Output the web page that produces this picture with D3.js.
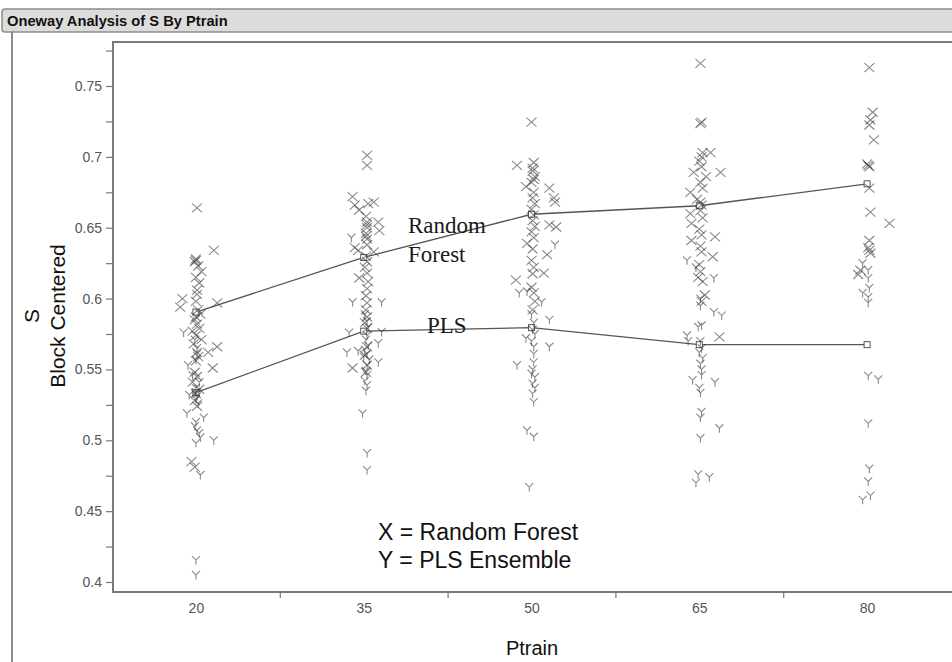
<!DOCTYPE html>
<html>
<head>
  <meta charset="utf-8">
  <title>Oneway Analysis of S By Ptrain</title>
  <script src="https://d3js.org/d3.v7.min.js"></script>
  <style>
    body {
      margin: 0;
      background: #ffffff;
      font-family: "Liberation Sans", Arial, sans-serif;
    }
    svg { display: block; }
    .tick text {
      font-family: "Liberation Sans", Arial, sans-serif;
      font-size: 14px;
      fill: #555;
    }
    .tick line { stroke: #777; stroke-width: 1.2; }
    .anno {
      font-family: "Liberation Serif", "Times New Roman", serif;
      font-size: 23px;
      fill: #1a1a1a;
    }
  </style>
</head>
<body>
  <div id="chart"></div>

  <script>
    // Ptrain levels and axis labels
    const ptrainLevels = [20, 35, 50, 65, 80];
    const groupBounds = [27.5, 42.5, 57.5, 72.5];
    const yMajorTicks = [0.4, 0.45, 0.5, 0.55, 0.6, 0.65, 0.7, 0.75];
    const yTickLabels = ['0.4', '0.45', '0.5', '0.55', '0.6', '0.65', '0.7', '0.75'];
    const yMinorTicks = [0.425, 0.475, 0.525, 0.575, 0.625, 0.675, 0.725, 0.775];

    // group means (lines)
    const rfMeans = [0.5905, 0.629, 0.6595, 0.6655, 0.681];
    const plsMeans = [0.5336, 0.577, 0.5795, 0.5675, 0.5675];

    // jittered points: [Ptrain, S]  X = Random Forest
    const rfPts20 = [
      [20.1, .664], [21.6, .634], [20.0, .628], [19.9, .626], [20.2, .623], [20.5, .619], [20.0, .615],
      [20.3, .611], [20.1, .606], [18.8, .600], [18.6, .594], [21.9, .597], [20.0, .598], [20.2, .592],
      [20.4, .589], [19.9, .585], [20.1, .582], [20.3, .579], [19.7, .577], [20.0, .574], [20.5, .571],
      [19.8, .568], [21.9, .566], [21.1, .562], [20.2, .559], [20.0, .556], [21.5, .551], [19.9, .548],
      [20.1, .545], [19.7, .541], [20.3, .536], [20.0, .533], [19.9, .528], [20.1, .524], [19.6, .485],
      [19.9, .481], [20.0, .627], [20.1, .603], [20.0, .587], [20.1, .562]
    ];
    const rfPts35 = [
      [35.3, .701], [35.3, .694], [34.0, .672], [34.2, .666], [35.4, .667], [35.9, .668], [34.6, .6625],
      [35.2, .658], [35.3, .654], [36.3, .654], [36.4, .648], [35.3, .650], [35.2, .646], [35.3, .642],
      [34.2, .636], [34.5, .634], [35.9, .633], [35.3, .638], [35.2, .630], [35.3, .626], [35.1, .622],
      [35.3, .618], [34.6, .6145], [35.4, .612], [35.3, .607], [35.2, .602], [35.3, .597], [35.2, .592],
      [35.3, .587], [35.1, .583], [35.3, .579], [34.0, .551], [35.3, .553], [35.2, .548], [35.1, .560],
      [35.3, .566], [35.3, .652], [35.2, .644]
    ];
    const rfPts50 = [
      [50.0, .7245], [48.7, .694], [50.2, .696], [50.1, .690], [50.3, .686], [49.5, .679], [51.6, .678],
      [50.0, .682], [50.2, .675], [52.0, .671], [52.1, .668], [50.1, .671], [50.3, .667], [50.0, .663],
      [50.2, .659], [50.1, .655], [51.6, .652], [52.2, .6505], [50.3, .651], [50.0, .647], [50.2, .643],
      [49.6, .639], [50.1, .635], [51.4, .631], [50.0, .627], [51.1, .618], [48.6, .613], [50.2, .622],
      [50.1, .6175], [50.0, .608], [50.2, .604], [50.3, .598], [50.1, .592], [50.1, .692], [50.2, .684]
    ];
    const rfPts65 = [
      [65.1, .766], [65.2, .7245], [65.1, .7235], [65.3, .703], [66.0, .703], [66.9, .689], [64.5, .689],
      [65.6, .686], [64.2, .675], [65.3, .678], [65.1, .682], [65.0, .697], [65.2, .693], [64.8, .670],
      [65.2, .666], [64.2, .660], [65.1, .662], [64.3, .653], [65.3, .657], [65.0, .649], [65.2, .645],
      [64.3, .641], [66.4, .6435], [65.1, .637], [65.2, .633], [66.2, .6295], [65.0, .624], [65.1, .619],
      [65.5, .6025], [65.2, .598], [66.8, .573], [65.3, .612], [64.9, .615], [65.1, .668], [65.2, .700]
    ];
    const rfPts80 = [
      [80.2, .763], [80.5, .7315], [80.3, .726], [80.2, .7225], [80.6, .712], [80.1, .694], [80.2, .693],
      [80.0, .695], [80.2, .678], [80.3, .661], [82.0, .653], [80.2, .641], [80.1, .636], [80.2, .634],
      [80.3, .632], [79.4, .620], [79.2, .617]
    ];

    // Y = PLS Ensemble
    const plsPts20 = [
      [18.9, .576], [19.3, .553], [20.1, .561], [20.0, .557], [19.7, .546], [20.3, .541], [20.0, .537],
      [19.4, .532], [20.0, .529], [20.2, .526], [19.2, .519], [20.7, .516], [20.0, .513], [19.9, .510],
      [20.1, .507], [20.3, .505], [21.6, .500], [20.4, .502], [20.0, .498], [20.4, .4755], [20.0, .4155],
      [20.0, .405], [20.1, .565], [19.9, .571], [20.0, .534], [20.1, .531]
    ];
    const plsPts35 = [
      [33.9, .643], [34.0, .5975], [36.6, .5975], [33.7, .576], [36.6, .5765], [33.5, .562], [34.5, .563],
      [35.0, .559], [36.3, .5685], [36.3, .555], [35.3, .574], [35.2, .571], [35.4, .567], [35.1, .564],
      [35.3, .561], [35.5, .557], [35.3, .553], [35.2, .549], [35.3, .546], [35.1, .542], [35.3, .539],
      [35.2, .535], [35.4, .580], [35.3, .584], [35.1, .589], [34.9, .519], [35.3, .491], [35.3, .479]
    ];
    const plsPts50 = [
      [52.1, .638], [48.9, .604], [49.6, .605], [50.9, .5975], [51.6, .585], [49.5, .572], [51.6, .566],
      [48.7, .553], [50.2, .561], [50.2, .555], [50.3, .5445], [50.1, .533], [50.2, .527], [49.6, .507],
      [50.2, .5025], [49.8, .467], [50.0, .589], [50.2, .583], [50.1, .578], [50.3, .575], [50.0, .570],
      [50.2, .566], [50.1, .550], [50.0, .547], [50.1, .540], [50.3, .537]
    ];
    const plsPts65 = [
      [63.9, .627], [64.7, .622], [66.3, .6145], [65.1, .600], [66.3, .5905], [67.0, .588], [64.9, .580],
      [65.2, .581], [63.9, .574], [65.1, .570], [65.2, .565], [65.0, .562], [65.3, .558], [65.1, .554],
      [65.2, .550], [64.4, .5425], [66.4, .541], [65.1, .5335], [65.2, .520], [65.1, .516], [66.8, .5085],
      [65.1, .5015], [64.9, .476], [65.9, .474], [64.7, .470], [65.2, .546], [65.0, .537], [65.1, .595],
      [64.0, .570]
    ];
    const plsPts80 = [
      [79.6, .625], [80.1, .620], [80.1, .6145], [80.2, .6075], [79.6, .604], [80.1, .601], [80.1, .597],
      [80.1, .5455], [81.0, .543], [80.1, .512], [80.2, .480], [80.1, .471], [79.6, .458], [80.3, .461]
    ];

    const W = 952, H = 662;
    const plot = { left: 113, top: 42, right: 953, bottom: 592 };

    const svg = d3.select('#chart').append('svg')
      .attr('width', W)
      .attr('height', H);

    // title bar
    svg.append('rect')
      .attr('x', 2).attr('y', 9)
      .attr('width', W + 10).attr('height', 23)
      .attr('rx', 3)
      .attr('fill', '#dcdcdc')
      .attr('stroke', '#8c8c8c')
      .attr('stroke-width', 1.5);
    svg.append('text')
      .attr('x', 7).attr('y', 26)
      .attr('font-size', '14.7px')
      .attr('font-weight', 'bold')
      .attr('fill', '#111')
      .text('Oneway Analysis of S By Ptrain');

    // outline of the report box
    svg.append('line')
      .attr('x1', 12).attr('x2', 12)
      .attr('y1', 32).attr('y2', H)
      .attr('stroke', '#8c8c8c')
      .attr('stroke-width', 2);

    const x = d3.scaleLinear().domain([12.5, 87.5]).range([112, 951]);
    const y = d3.scaleLinear().domain([0.4, 0.75]).range([582, 86]);

    // plot frame
    svg.append('rect')
      .attr('x', plot.left).attr('y', plot.top)
      .attr('width', plot.right - plot.left).attr('height', plot.bottom - plot.top)
      .attr('fill', 'none')
      .attr('stroke', '#7a7a7a')
      .attr('stroke-width', 2);

    // y axis
    const yAxis = svg.append('g')
      .attr('transform', `translate(${plot.left},0)`)
      .call(d3.axisLeft(y).tickValues(yMajorTicks).tickSize(7).tickPadding(4)
        .tickFormat((d, i) => yTickLabels[i]));
    yAxis.select('.domain').remove();
    const yMinor = svg.append('g')
      .attr('transform', `translate(${plot.left},0)`)
      .call(d3.axisLeft(y).tickValues(yMinorTicks).tickSize(7).tickFormat(''));
    yMinor.select('.domain').remove();

    // x axis
    const xAxis = svg.append('g')
      .attr('transform', `translate(0,${plot.bottom})`)
      .call(d3.axisBottom(x).tickValues(ptrainLevels).tickSize(0).tickPadding(11));
    xAxis.select('.domain').remove();
    const xBounds = svg.append('g')
      .attr('transform', `translate(0,${plot.bottom})`)
      .call(d3.axisBottom(x).tickValues(groupBounds).tickSize(6).tickFormat(''));
    xBounds.select('.domain').remove();

    // axis titles
    svg.append('text')
      .attr('transform', 'translate(39,316) rotate(-90)')
      .attr('text-anchor', 'middle')
      .attr('font-size', '21px')
      .attr('fill', '#111')
      .text('S');
    svg.append('text')
      .attr('transform', 'translate(65,316) rotate(-90)')
      .attr('text-anchor', 'middle')
      .attr('font-size', '21px')
      .attr('fill', '#111')
      .text('Block Centered');
    svg.append('text')
      .attr('x', 532).attr('y', 655)
      .attr('text-anchor', 'middle')
      .attr('font-size', '20px')
      .attr('fill', '#111')
      .text('Ptrain');

    // mean lines (drawn under the points, as in the report)
    const line = d3.line()
      .x((d, i) => x(ptrainLevels[i]))
      .y(d => y(d));

    [rfMeans, plsMeans].forEach(means => {
      svg.append('path')
        .datum(means)
        .attr('d', line)
        .attr('fill', 'none')
        .attr('stroke', '#555')
        .attr('stroke-width', 1.3);
      svg.append('g')
        .selectAll('rect')
        .data(means)
        .enter()
        .append('rect')
        .attr('x', (d, i) => x(ptrainLevels[i]) - 3)
        .attr('y', d => y(d) - 3)
        .attr('width', 6)
        .attr('height', 6)
        .attr('fill', 'white')
        .attr('stroke', '#555')
        .attr('stroke-width', 1);
    });

    // markers
    const xMark = 'M-5,-4.5L5,4.5M-5,4.5L5,-4.5';
    const yMark = 'M-4,-4L0,0L4,-4M0,0L0,4.5';

    const rfAll = [].concat(rfPts20, rfPts35, rfPts50, rfPts65, rfPts80);
    const plsAll = [].concat(plsPts20, plsPts35, plsPts50, plsPts65, plsPts80);

    svg.append('g')
      .selectAll('path')
      .data(plsAll)
      .enter()
      .append('path')
      .attr('transform', d => `translate(${x(d[0])},${y(d[1])})`)
      .attr('d', yMark)
      .attr('fill', 'none')
      .attr('stroke', '#3a3a3a')
      .attr('stroke-opacity', 0.6)
      .attr('stroke-width', 1.1);

    svg.append('g')
      .selectAll('path')
      .data(rfAll)
      .enter()
      .append('path')
      .attr('transform', d => `translate(${x(d[0])},${y(d[1])})`)
      .attr('d', xMark)
      .attr('fill', 'none')
      .attr('stroke', '#3a3a3a')
      .attr('stroke-opacity', 0.6)
      .attr('stroke-width', 1.1);

    // annotations
    svg.append('text').attr('class', 'anno')
      .attr('x', 408).attr('y', 233).text('Random');
    svg.append('text').attr('class', 'anno')
      .attr('x', 408).attr('y', 262).text('Forest');
    svg.append('text').attr('class', 'anno')
      .attr('x', 427).attr('y', 333).text('PLS');

    svg.append('text')
      .attr('x', 378).attr('y', 540)
      .attr('font-size', '23px')
      .attr('fill', '#111')
      .text('X = Random Forest');
    svg.append('text')
      .attr('x', 378).attr('y', 568)
      .attr('font-size', '23px')
      .attr('fill', '#111')
      .text('Y = PLS Ensemble');
  </script>
</body>
</html>
